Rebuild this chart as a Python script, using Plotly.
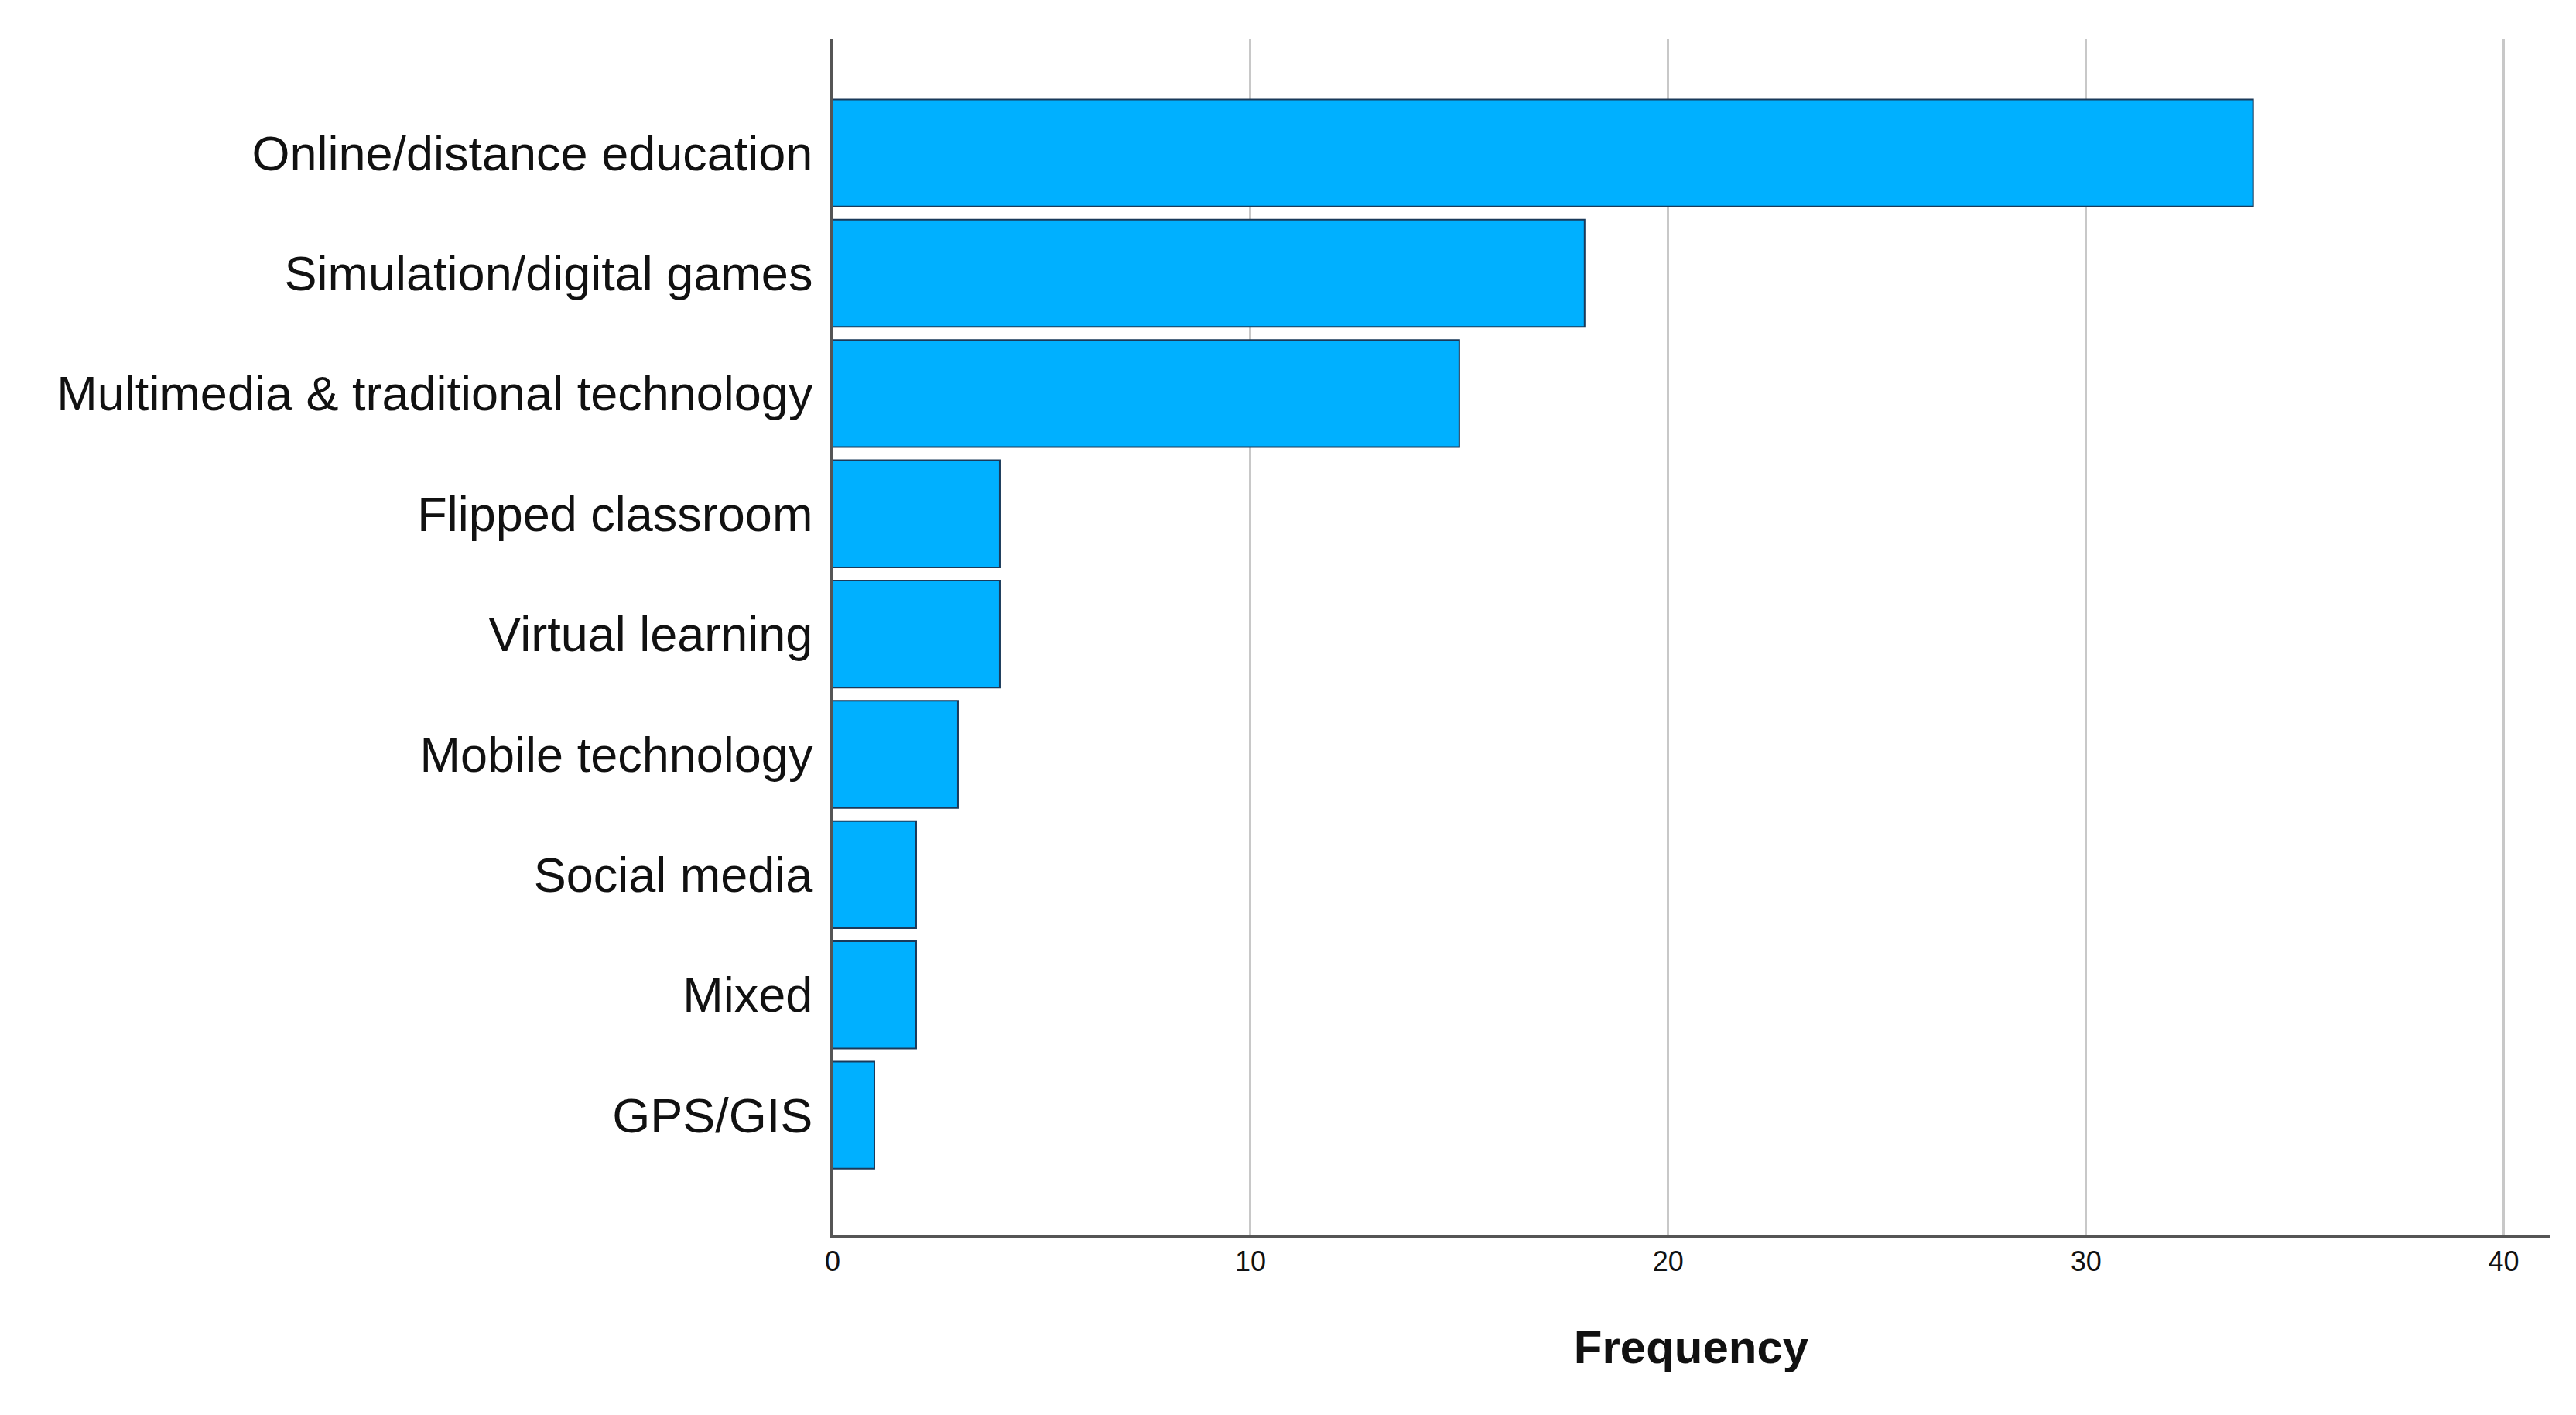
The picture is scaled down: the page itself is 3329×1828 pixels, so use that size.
import plotly.graph_objects as go

categories = ["Online/distance education", "Simulation/digital games", "Multimedia & traditional technology",
              "Flipped classroom", "Virtual learning", "Mobile technology", "Social media", "Mixed", "GPS/GIS"]
values = [34, 18, 15, 4, 4, 3, 2, 2, 1]
x_ticks = [0, 10, 20, 30, 40]

fig = go.Figure(go.Bar(
    x=values, y=categories, orientation="h", width=0.89,
    marker=dict(color="#00B0FF", line=dict(color="#1a3a5a", width=2)),
))
fig.update_layout(
    width=3329, height=1828, plot_bgcolor="white", paper_bgcolor="white",
    margin=dict(l=1068, r=42, t=42, b=240),
    font=dict(family="Liberation Sans, Arial", color="#111"),
    showlegend=False,
)
fig.update_xaxes(range=[0, 41.1], tickvals=x_ticks, showgrid=True, gridcolor="#c8c8c8", gridwidth=3,
                 showline=True, linecolor="#555", linewidth=3, ticks="", tickfont=dict(size=36),
                 zeroline=False,
                 title=dict(text="<b>Frequency</b>", font=dict(size=60), standoff=70))
fig.update_yaxes(categoryorder="array", categoryarray=categories, range=[9.0, -0.95],
                 showline=True, linecolor="#555", linewidth=3, ticks="", tickfont=dict(size=63),
                 ticklabelstandoff=10)
fig.write_html("out.html")
